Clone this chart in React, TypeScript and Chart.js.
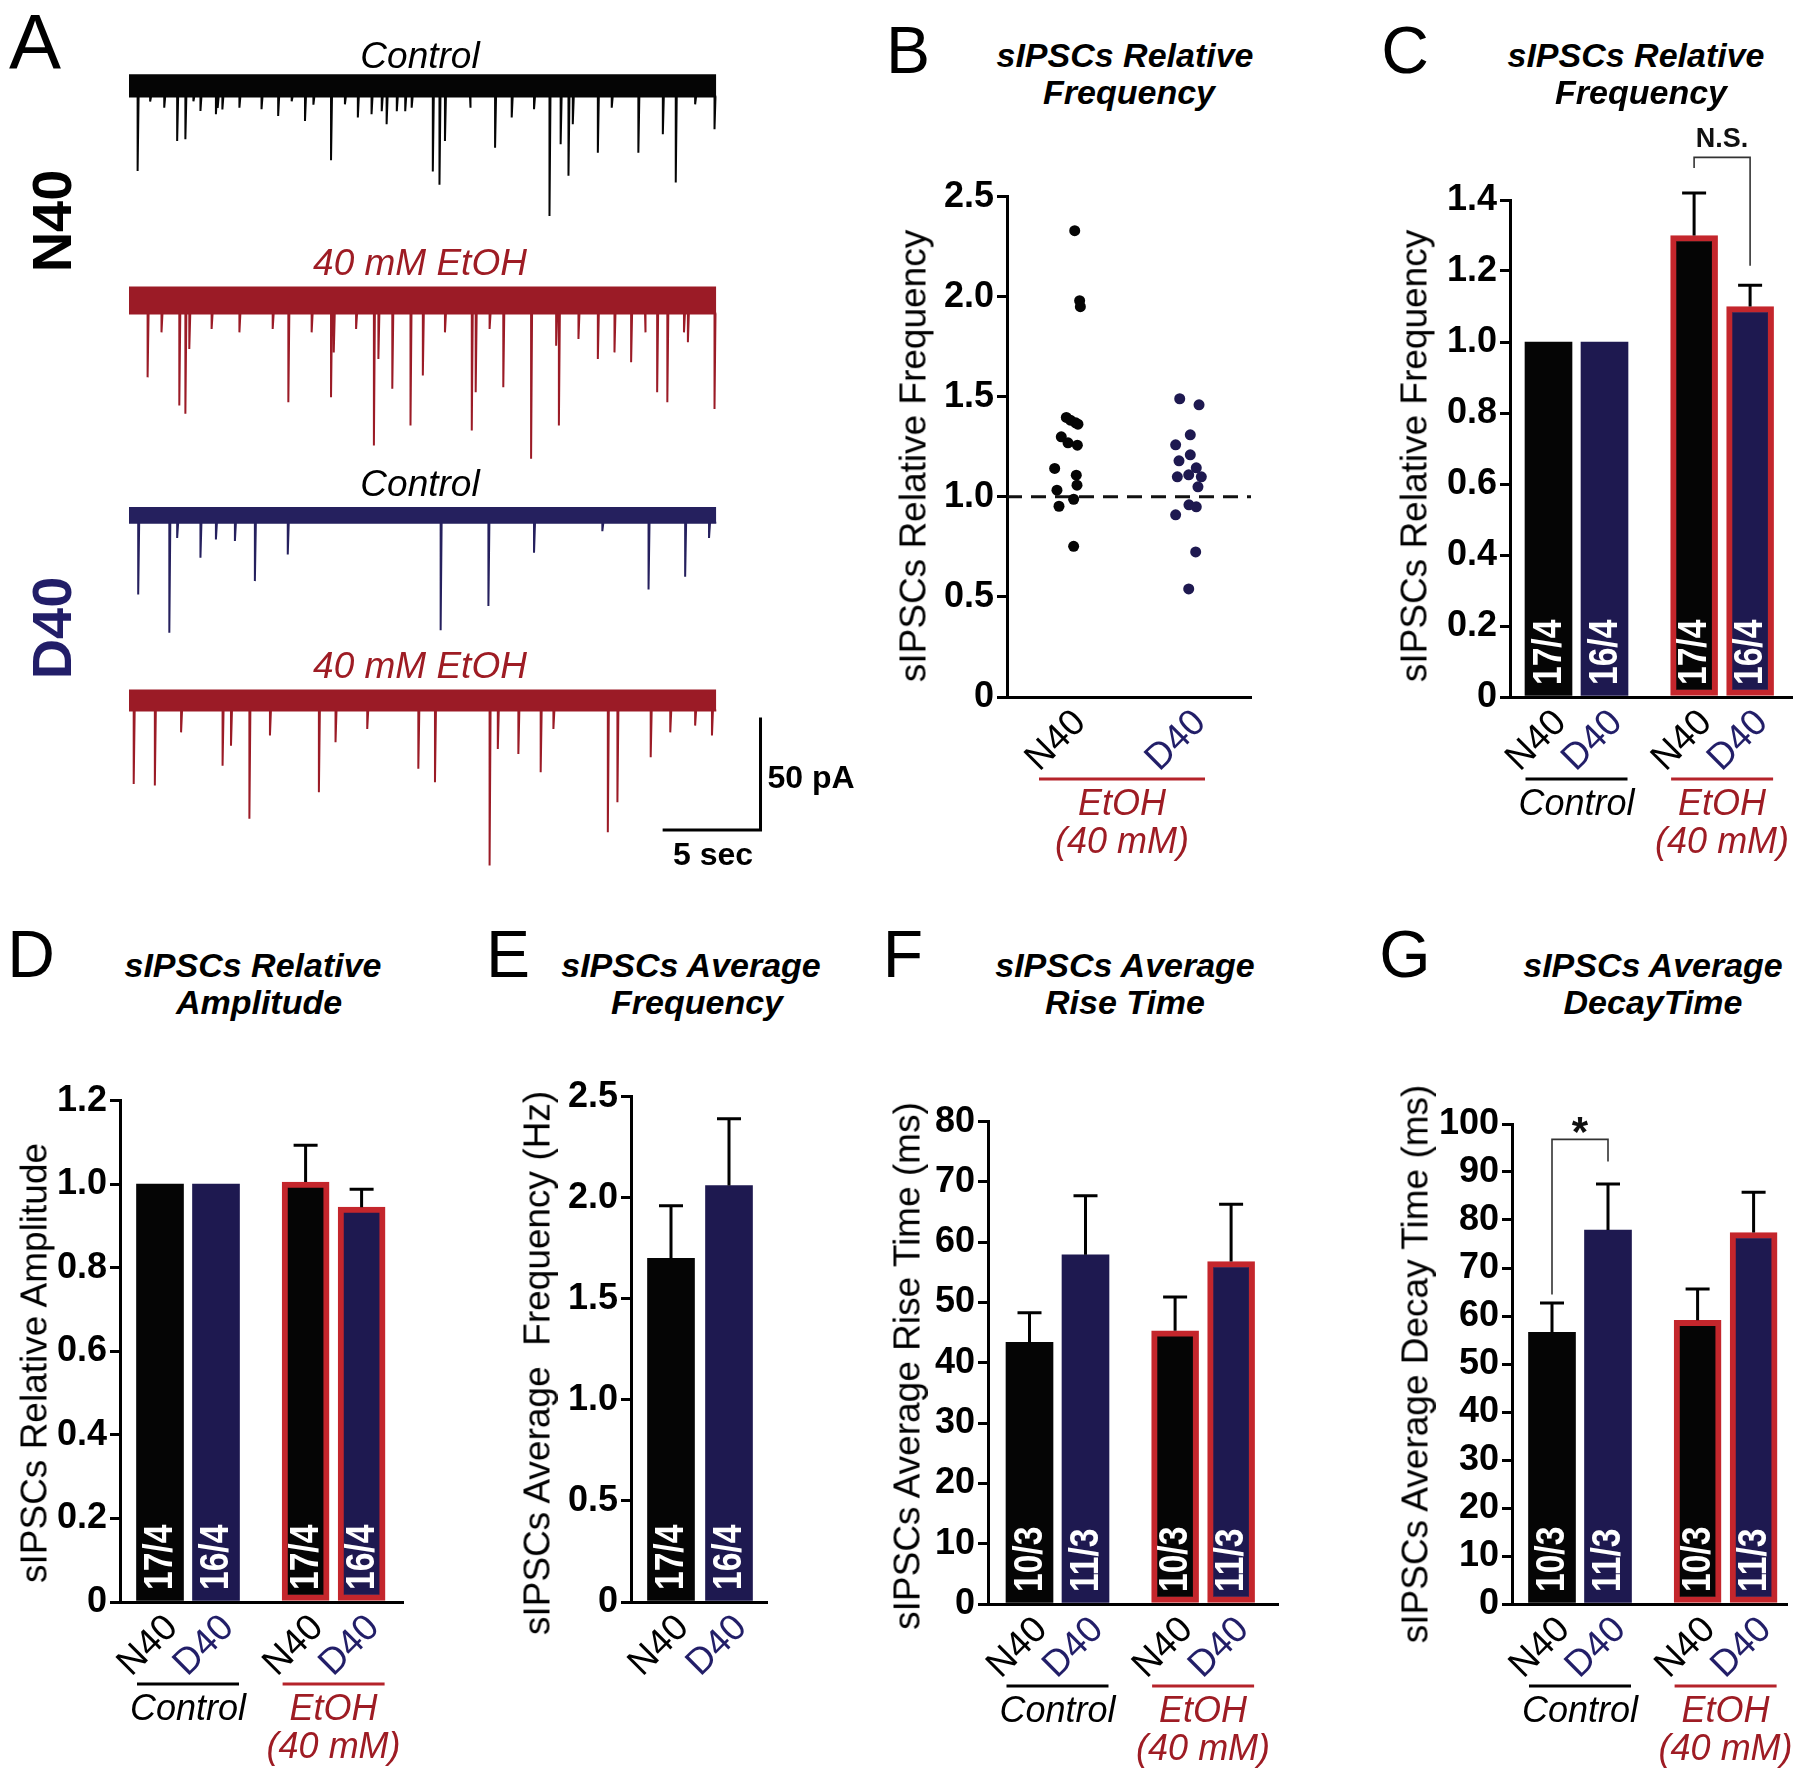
import React, { useEffect, useRef } from 'react';
import { Chart, registerables } from 'chart.js';

Chart.register(...registerables);

const FONT = '"Liberation Sans", Arial, Helvetica, sans-serif';
Chart.defaults.font.family = FONT;

// ===================== DATA =====================
// Panel A: representative 30 s recordings. Noise band [low, high] (pA); events [time (s), peak (pA)]
const traceSeconds = 30;
const scaleBarSeconds = 5;
const scaleBarPicoamps = 50;

const n40ControlNoise = [-4.2, 5.6];
const n40ControlEvents: number[][] = [
  [0.44, -37.3], [1.08, -6.5], [1.8, -9.2], [2.46, -24], [2.88, -23.2], [3.29, -6.4], [3.65, -10.7], [4.44, -12.1],
  [4.53, -9.3], [4.77, -10], [5.64, -9.2], [6.77, -9.9], [7.62, -12.9], [8.31, -6.4], [8.99, -15.1], [9.42, -7.9],
  [10.32, -32.6], [11.03, -7.7], [11.69, -13.6], [12.39, -12.1], [12.91, -10.8], [13.16, -16.6], [13.68, -10.8],
  [14.11, -10.8], [14.44, -9.2], [15.52, -37.6], [15.86, -43.5], [16.14, -24], [17.42, -9.2], [18.7, -27],
  [19.55, -13.6], [20.69, -9.9], [21.48, -57.3], [22.05, -25.5], [22.45, -39.5], [22.67, -16.6], [23.95, -29.2],
  [24.66, -9.2], [26.02, -29.2], [27.27, -21], [27.93, -42.5], [28.92, -7.7], [29.91, -18.8],
];
const n40EtohNoise = [-6, 6];
const n40EtohEvents: number[][] = [
  [0.95, -34.4], [1.66, -14.4], [2.57, -46.9], [2.88, -50.6], [3.08, -21.8], [4.22, -12.9], [5.64, -14.4],
  [7.34, -12.9], [8.14, -45.5], [9.33, -14.4], [10.32, -43.2], [10.46, -23.3], [11.6, -12.9], [12.51, -64.7],
  [12.74, -26.2], [13.45, -39.5], [14.38, -55.8], [15.01, -33.6], [16.14, -14.4], [17.51, -58], [17.71, -41],
  [18.42, -12.9], [19.12, -38.8], [20.54, -70.6], [21.82, -20.3], [21.96, -55.8], [22.96, -17.3], [23.95, -26.2],
  [24.8, -23.3], [25.65, -27.7], [26.36, -14.4], [26.98, -41], [27.5, -45.5], [28.35, -14.4], [28.55, -18.8],
  [29.91, -48.4],
];
const d40ControlNoise = [-3.5, 3.5];
const d40ControlEvents: number[][] = [
  [0.47, -35.3], [2.06, -52.3], [2.46, -10.2], [3.65, -19], [4.44, -10.9], [5.41, -11.6], [6.43, -29.4],
  [8.11, -17.6], [15.92, -51.2], [18.36, -40.5], [20.69, -16.8], [24.18, -7.2], [26.54, -33.1], [28.41, -27.5],
  [29.63, -10.2],
];
const d40EtohNoise = [-4.7, 4.7];
const d40EtohEvents: number[][] = [
  [0.24, -37.3], [1.32, -38], [2.66, -14.4], [4.78, -29.2], [5.21, -20.3], [6.15, -52.8], [7.2, -15.8],
  [9.7, -41], [10.55, -18.8], [12.17, -12.9], [14.78, -30.6], [15.63, -36.6], [18.42, -73.6], [18.84, -21.8],
  [19.89, -24], [21.03, -32.1], [21.68, -12.9], [24.46, -58.8], [24.95, -45.4], [26.65, -25.5], [27.65, -14.4],
  [28.92, -11.4], [29.78, -15.8],
];

// Panel B: relative frequency per cell, with horizontal jitter (category units)
const bCategories = ['N40', 'D40'];
const bN40Values = [2.33, 1.98, 1.95, 1.397, 1.383, 1.37, 1.363, 1.3, 1.27, 1.258, 1.142, 1.108, 1.058, 1.033, 0.988, 0.953, 0.753];
const bN40Jitter = [0.056, 0.097, 0.103, -0.014, 0.02, 0.064, 0.083, -0.056, 0.0, 0.078, -0.111, 0.069, 0.075, -0.092, 0.047, -0.075, 0.047];
const bD40Values = [1.49, 1.46, 1.31, 1.26, 1.21, 1.18, 1.145, 1.11, 1.1, 1.1, 1.05, 0.96, 0.95, 0.91, 0.725, 0.54];
const bD40Jitter = [-0.069, 0.092, 0.019, -0.103, 0.019, -0.075, 0.069, 0.006, 0.111, -0.089, 0.083, 0.008, 0.069, -0.103, 0.064, 0.006];
const bReference = 1.0;

// Bar panels
const barCategories = ['N40', 'D40', 'N40', 'D40'];
const barConditions = ['Control', 'Control', 'EtOH', 'EtOH'];
const cRelFreqMean = [1.0, 1.0, 1.3, 1.1];
const cRelFreqSem = [0, 0, 0.12, 0.06];
const dRelAmpMean = [1.0, 1.0, 1.005, 0.945];
const dRelAmpSem = [0, 0, 0.088, 0.043];
const eCategories = ['N40', 'D40'];
const eAvgFreqMean = [1.7, 2.06];
const eAvgFreqSem = [0.26, 0.33];
const fRiseMean = [43.4, 57.9, 45.3, 56.8];
const fRiseSem = [4.9, 9.8, 5.6, 9.5];
const gDecayMean = [56.6, 77.9, 59.1, 77.4];
const gDecaySem = [6.1, 9.6, 6.5, 8.4];
const cellsFreq = ['17/4', '16/4', '17/4', '16/4'];
const cellsKinetics = ['10/3', '11/3', '10/3', '11/3'];
const groupControl = ['Control'];
const groupEtoh = ['EtOH', '(40 mM)'];

// ===================== STYLE / LAYOUT =====================
const BLACK = '#050505';
const NAVY = '#1e1950';
const NAVY_TEXT = '#221e68';
const RED_BORDER = '#c4262c';
const RED_TEXT = '#9e1c24';
const RED_TRACE = '#9b1b26';
const NAVY_TRACE = '#25205e';

const TICK_FONT = { family: FONT, size: 36, weight: 'bold' as const };
const XLABEL_FONT = `37px ${FONT}`;
const GROUP_FONT = `italic 36px ${FONT}`;
const CELL_FONT = `bold 40px ${FONT}`;

interface Group { from: number; to: number; lines: string[]; color: string; lineColor: string; padL: number; padR: number }
interface Bracket { a: number; b: number; top: number; left: number; right: number; label: string; labelAt: number; font: string; dy: number }
interface Decor {
  positions: number[];
  means?: number[];
  sems?: number[];
  cells?: string[];
  xLabels: string[];
  xLabelColors: string[];
  groups: Group[];
  bracket?: Bracket;
}

function makeDecor(id: string, d: Decor) {
  return {
    id,
    afterDatasetsDraw(chart: any) {
      const { ctx, chartArea, scales } = chart;
      const xs = scales.x;
      const ys = scales.y;
      const base = chartArea.bottom;
      const px = (i: number) => xs.getPixelForValue(d.positions[i]);
      ctx.save();
      if (d.means && d.sems) {
        ctx.strokeStyle = '#000';
        ctx.lineWidth = 3;
        d.means.forEach((m, i) => {
          const s = d.sems![i];
          if (!s) return;
          const x = px(i);
          const y1 = ys.getPixelForValue(m);
          const y2 = ys.getPixelForValue(m + s);
          ctx.beginPath();
          ctx.moveTo(x, y1);
          ctx.lineTo(x, y2);
          ctx.moveTo(x - 12, y2);
          ctx.lineTo(x + 12, y2);
          ctx.stroke();
        });
      }
      if (d.cells) {
        d.cells.forEach((c, i) => {
          ctx.save();
          ctx.translate(px(i), base - 12);
          ctx.rotate(-Math.PI / 2);
          ctx.scale(0.84, 1);
          ctx.font = CELL_FONT;
          ctx.fillStyle = '#ffffff';
          ctx.textAlign = 'left';
          ctx.textBaseline = 'middle';
          ctx.fillText(c, 0, 1);
          ctx.restore();
        });
      }
      if (d.bracket) {
        const b = d.bracket;
        const xa = px(b.a);
        const xb = px(b.b);
        ctx.strokeStyle = '#333';
        ctx.lineWidth = 1.6;
        ctx.beginPath();
        ctx.moveTo(xa, ys.getPixelForValue(b.left));
        ctx.lineTo(xa, ys.getPixelForValue(b.top));
        ctx.lineTo(xb, ys.getPixelForValue(b.top));
        ctx.lineTo(xb, ys.getPixelForValue(b.right));
        ctx.stroke();
        ctx.font = b.font;
        ctx.fillStyle = '#111';
        ctx.textAlign = 'center';
        ctx.textBaseline = 'middle';
        ctx.fillText(b.label, (xa + xb) / 2, ys.getPixelForValue(b.labelAt) + b.dy);
      }
      d.xLabels.forEach((t, i) => {
        ctx.save();
        ctx.translate(px(i) - 1, base + 7);
        ctx.rotate(-Math.PI / 4);
        ctx.font = XLABEL_FONT;
        ctx.fillStyle = d.xLabelColors[i];
        ctx.textAlign = 'right';
        ctx.textBaseline = 'top';
        ctx.fillText(t, 0, 0);
        ctx.restore();
      });
      d.groups.forEach((g) => {
        const xl = px(g.from) - g.padL;
        const xr = px(g.to) + g.padR;
        ctx.strokeStyle = g.lineColor;
        ctx.lineWidth = 3;
        ctx.beginPath();
        ctx.moveTo(xl, base + 82);
        ctx.lineTo(xr, base + 82);
        ctx.stroke();
        ctx.font = GROUP_FONT;
        ctx.fillStyle = g.color;
        ctx.textAlign = 'center';
        ctx.textBaseline = 'middle';
        g.lines.forEach((ln, k) => ctx.fillText(ln, (xl + xr) / 2, base + 108 + 38 * k));
      });
      ctx.restore();
    },
  };
}

interface Spec { key: string; left: number; top: number; width: number; height: number; make: () => any }

interface AxisLayout {
  axisX: number; axisEnd: number; yTop: number; yBottom: number;
  unit: number; firstCenter: number; yMax: number; yStep: number; decimals: number; padTop: number;
}

const YW = 85, PR = 40, XH = 185;

function yAxis(L: AxisLayout) {
  return {
    min: 0,
    max: L.yMax,
    grid: { display: true, drawOnChartArea: false, drawTicks: true, tickLength: 10, lineWidth: 3, color: '#000' },
    border: { display: true, width: 3, color: '#000' },
    ticks: {
      stepSize: L.yStep,
      autoSkip: false,
      font: TICK_FONT,
      color: '#000',
      padding: 3,
      callback: (v: any) => (Number(v) === 0 ? '0' : Number(v).toFixed(L.decimals)),
    },
    afterFit: (s: any) => { s.width = YW; },
  };
}

function xAxis(min: number, max: number) {
  return {
    type: 'linear',
    min,
    max,
    offset: false,
    grid: { display: false, drawTicks: false },
    border: { display: true, width: 3, color: '#000' },
    ticks: { display: false },
    afterFit: (s: any) => { s.height = XH; },
  };
}

function frame(L: AxisLayout, positions: number[]) {
  const min = positions[0] - (L.firstCenter - L.axisX) / L.unit;
  const max = min + (L.axisEnd - L.axisX) / L.unit;
  return {
    min, max,
    left: L.axisX - YW,
    top: L.yTop - L.padTop,
    width: YW + (L.axisEnd - L.axisX) + PR,
    height: L.padTop + (L.yBottom - L.yTop) + XH,
  };
}

const SLOTS4 = [1, 2, 3.6, 4.6];
const SLOTS2 = [1, 2];

function catColor(c: string) { return c === 'N40' ? BLACK : NAVY; }
function catTextColor(c: string) { return c === 'N40' ? '#000' : NAVY_TEXT; }

function barSpec(key: string, L: AxisLayout, positions: number[], cats: string[], conds: string[],
  means: number[], sems: number[], cells: string[], grouped: boolean, bracket?: Bracket): Spec {
  const f = frame(L, positions);
  const groups: Group[] = grouped ? [
    { from: 0, to: 1, lines: groupControl, color: '#000', lineColor: '#000', padL: 23, padR: 23 },
    { from: 2, to: 3, lines: groupEtoh, color: RED_TEXT, lineColor: '#b5232a', padL: 23, padR: 23 },
  ] : [];
  return {
    key, left: f.left, top: f.top, width: f.width, height: f.height,
    make: () => ({
      type: 'bar',
      data: {
        datasets: [{
          data: means.map((m, i) => ({ x: positions[i], y: m })),
          backgroundColor: cats.map(catColor),
          borderColor: cats.map((c, i) => (conds[i] === 'EtOH' ? RED_BORDER : catColor(c))),
          borderWidth: conds.map((c) => (c === 'EtOH' ? 6 : 0)),
          borderSkipped: false,
          barThickness: 47,
        }],
      },
      options: {
        responsive: false,
        animation: false,
        layout: { padding: { top: L.padTop, right: PR, left: 0, bottom: 0 } },
        plugins: { legend: { display: false }, tooltip: { enabled: false } },
        scales: { x: xAxis(f.min, f.max), y: yAxis(L) },
      },
      plugins: [makeDecor('decor' + key, {
        positions, means, sems, cells,
        xLabels: cats, xLabelColors: cats.map(catTextColor), groups, bracket,
      })],
    }),
  };
}

// Panel B scatter
const bLayout: AxisLayout = { axisX: 1007, axisEnd: 1251, yTop: 196, yBottom: 697, unit: 120, firstCenter: 1068, yMax: 2.5, yStep: 0.5, decimals: 1, padTop: 24 };
function scatterSpec(): Spec {
  const f = frame(bLayout, SLOTS2);
  return {
    key: 'B', left: f.left, top: f.top, width: f.width, height: f.height,
    make: () => ({
      type: 'scatter',
      data: {
        datasets: [
          { data: bN40Values.map((v, i) => ({ x: SLOTS2[0] + bN40Jitter[i], y: v })), backgroundColor: BLACK, pointRadius: 5.5, pointBorderWidth: 0, borderWidth: 0 },
          { data: bD40Values.map((v, i) => ({ x: SLOTS2[1] + bD40Jitter[i], y: v })), backgroundColor: NAVY, pointRadius: 5.5, pointBorderWidth: 0, borderWidth: 0 },
          { data: [{ x: f.min, y: bReference }, { x: f.max, y: bReference }], showLine: true, borderColor: '#111', borderWidth: 3, borderDash: [15, 9], pointRadius: 0 },
        ],
      },
      options: {
        responsive: false,
        animation: false,
        layout: { padding: { top: bLayout.padTop, right: PR, left: 0, bottom: 0 } },
        plugins: { legend: { display: false }, tooltip: { enabled: false } },
        scales: { x: xAxis(f.min, f.max), y: yAxis(bLayout) },
      },
      plugins: [makeDecor('decorB', {
        positions: SLOTS2,
        xLabels: bCategories, xLabelColors: bCategories.map(catTextColor),
        groups: [{ from: 0, to: 1, lines: groupEtoh, color: RED_TEXT, lineColor: '#b5232a', padL: 29, padR: 17 }],
      })],
    }),
  };
}

// Panel A traces
const TRACE_X0 = 129;
const PX_PER_S = 19.57;
const PX_PER_PA = 2.25;
const TRACE_T_MAX = 33;
const TRACE_Y_MIN = -80;
const TRACE_Y_MAX = 10.2;
const SCALEBAR_END_S = 32.26;
const SCALEBAR_BASE_PA = -57.8;

function traceSpec(key: string, noise: number[], events: number[][], color: string, centerY: number, withBar: boolean): Spec {
  const width = Math.round(TRACE_T_MAX * PX_PER_S);
  const height = Math.round((TRACE_Y_MAX - TRACE_Y_MIN) * PX_PER_PA);
  const top = Math.round(centerY - TRACE_Y_MAX * PX_PER_PA);
  return {
    key, left: TRACE_X0, top, width, height,
    make: () => {
      const [lo, hi] = noise;
      const pts: { x: number; y: number }[] = [{ x: 0, y: lo }];
      events.slice().sort((a, b) => a[0] - b[0]).forEach(([t, p]) => {
        pts.push({ x: t, y: lo }, { x: t, y: p }, { x: t + 0.05, y: lo });
      });
      pts.push({ x: traceSeconds, y: lo });
      const datasets: any[] = [
        { data: [{ x: 0, y: hi }, { x: traceSeconds, y: hi }], borderWidth: 0, pointRadius: 0, fill: '+1', backgroundColor: color, borderColor: color },
        { data: [{ x: 0, y: lo }, { x: traceSeconds, y: lo }], borderWidth: 0, pointRadius: 0, fill: false, borderColor: color },
        { data: pts, borderColor: color, borderWidth: 2, pointRadius: 0, fill: false },
      ];
      if (withBar) {
        datasets.push({
          data: [
            { x: SCALEBAR_END_S - scaleBarSeconds, y: SCALEBAR_BASE_PA },
            { x: SCALEBAR_END_S, y: SCALEBAR_BASE_PA },
            { x: SCALEBAR_END_S, y: SCALEBAR_BASE_PA + scaleBarPicoamps },
          ],
          borderColor: '#000', borderWidth: 3, pointRadius: 0, fill: false, borderJoinStyle: 'miter',
        });
      }
      return {
        type: 'line',
        data: { datasets },
        options: {
          responsive: false,
          animation: false,
          layout: { padding: 0 },
          plugins: { legend: { display: false }, tooltip: { enabled: false } },
          scales: {
            x: { type: 'linear', display: false, min: 0, max: TRACE_T_MAX },
            y: { display: false, min: TRACE_Y_MIN, max: TRACE_Y_MAX },
          },
          elements: { line: { tension: 0 } },
        },
      };
    },
  };
}

const cLayout: AxisLayout = { axisX: 1510, axisEnd: 1792, yTop: 200, yBottom: 697, unit: 56, firstCenter: 1548.5, yMax: 1.4, yStep: 0.2, decimals: 1, padTop: 95 };
const dLayout: AxisLayout = { axisX: 120, axisEnd: 403, yTop: 1100, yBottom: 1602, unit: 56, firstCenter: 160, yMax: 1.2, yStep: 0.2, decimals: 1, padTop: 24 };
const eLayout: AxisLayout = { axisX: 631, axisEnd: 767, yTop: 1096, yBottom: 1602, unit: 58, firstCenter: 671, yMax: 2.5, yStep: 0.5, decimals: 1, padTop: 24 };
const fLayout: AxisLayout = { axisX: 988, axisEnd: 1278, yTop: 1121, yBottom: 1604, unit: 56, firstCenter: 1029.5, yMax: 80, yStep: 10, decimals: 0, padTop: 24 };
const gLayout: AxisLayout = { axisX: 1512, axisEnd: 1787, yTop: 1124, yBottom: 1604, unit: 56, firstCenter: 1552, yMax: 100, yStep: 10, decimals: 0, padTop: 30 };

const specs: Spec[] = [
  traceSpec('A1', n40ControlNoise, n40ControlEvents, BLACK, 87, false),
  traceSpec('A2', n40EtohNoise, n40EtohEvents, RED_TRACE, 300, false),
  traceSpec('A3', d40ControlNoise, d40ControlEvents, NAVY_TRACE, 515, false),
  traceSpec('A4', d40EtohNoise, d40EtohEvents, RED_TRACE, 700, true),
  scatterSpec(),
  barSpec('C', cLayout, SLOTS4, barCategories, barConditions, cRelFreqMean, cRelFreqSem, cellsFreq, true,
    { a: 2, b: 3, top: 1.52, left: 1.49, right: 1.215, label: 'N.S.', labelAt: 1.57, font: `bold 27px ${FONT}`, dy: 0 }),
  barSpec('D', dLayout, SLOTS4, barCategories, barConditions, dRelAmpMean, dRelAmpSem, cellsFreq, true),
  barSpec('E', eLayout, SLOTS2, eCategories, ['Control', 'Control'], eAvgFreqMean, eAvgFreqSem, cellsFreq.slice(0, 2), false),
  barSpec('F', fLayout, SLOTS4, barCategories, barConditions, fRiseMean, fRiseSem, cellsKinetics, true),
  barSpec('G', gLayout, SLOTS4, barCategories, barConditions, gDecayMean, gDecaySem, cellsKinetics, true,
    { a: 0, b: 1, top: 96.8, left: 64.5, right: 92.2, label: '*', labelAt: 99.7, font: `bold 42px ${FONT}`, dy: 9 }),
];

function ChartCanvas({ spec }: { spec: Spec }) {
  const ref = useRef<HTMLCanvasElement>(null);
  useEffect(() => {
    const chart = new Chart(ref.current as HTMLCanvasElement, spec.make());
    return () => chart.destroy();
  }, [spec]);
  return (
    <canvas
      ref={ref}
      width={spec.width}
      height={spec.height}
      style={{ position: 'absolute', left: spec.left, top: spec.top, width: spec.width, height: spec.height }}
    />
  );
}

interface TextItem { t: string; x: number; y: number; size: number; bold?: boolean; italic?: boolean; color?: string; rot?: number }

const texts: TextItem[] = [
  // panel letters
  { t: 'A', x: 35, y: 42, size: 78 },
  { t: 'B', x: 908, y: 50, size: 66 },
  { t: 'C', x: 1405, y: 50, size: 66 },
  { t: 'D', x: 31, y: 954, size: 66 },
  { t: 'E', x: 508, y: 954, size: 66 },
  { t: 'F', x: 903, y: 954, size: 66 },
  { t: 'G', x: 1405, y: 954, size: 66 },
  // titles
  { t: 'sIPSCs Relative', x: 1125, y: 55, size: 34, bold: true, italic: true },
  { t: 'Frequency', x: 1129, y: 92, size: 34, bold: true, italic: true },
  { t: 'sIPSCs Relative', x: 1636, y: 55, size: 34, bold: true, italic: true },
  { t: 'Frequency', x: 1641, y: 92, size: 34, bold: true, italic: true },
  { t: 'sIPSCs Relative', x: 253, y: 965, size: 34, bold: true, italic: true },
  { t: 'Amplitude', x: 259, y: 1002, size: 34, bold: true, italic: true },
  { t: 'sIPSCs Average', x: 691, y: 965, size: 34, bold: true, italic: true },
  { t: 'Frequency', x: 697, y: 1002, size: 34, bold: true, italic: true },
  { t: 'sIPSCs Average', x: 1125, y: 965, size: 34, bold: true, italic: true },
  { t: 'Rise Time', x: 1125, y: 1002, size: 34, bold: true, italic: true },
  { t: 'sIPSCs Average', x: 1653, y: 965, size: 34, bold: true, italic: true },
  { t: 'DecayTime', x: 1653, y: 1002, size: 34, bold: true, italic: true },
  // y axis titles
  { t: 'sIPSCs Relative Frequency', x: 913, y: 456, size: 37, rot: -90 },
  { t: 'sIPSCs Relative Frequency', x: 1414, y: 456, size: 37, rot: -90 },
  { t: 'sIPSCs Relative Amplitude', x: 34, y: 1363, size: 37, rot: -90 },
  { t: 'sIPSCs Average  Frequency (Hz)', x: 537, y: 1363, size: 37, rot: -90 },
  { t: 'sIPSCs Average Rise Time (ms)', x: 907, y: 1366, size: 37, rot: -90 },
  { t: 'sIPSCs Average Decay Time (ms)', x: 1415, y: 1364, size: 37, rot: -90 },
  // panel A labels
  { t: 'Control', x: 420, y: 55, size: 37, italic: true },
  { t: '40 mM EtOH', x: 420, y: 262, size: 37, italic: true, color: RED_TEXT },
  { t: 'Control', x: 420, y: 483, size: 37, italic: true },
  { t: '40 mM EtOH', x: 420, y: 665, size: 37, italic: true, color: RED_TEXT },
  { t: 'N40', x: 52, y: 221, size: 56, bold: true, rot: -90 },
  { t: 'D40', x: 52, y: 628, size: 56, bold: true, rot: -90, color: NAVY_TEXT },
  { t: '50 pA', x: 811, y: 777, size: 32, bold: true },
  { t: '5 sec', x: 713, y: 854, size: 32, bold: true },
];

export default function App() {
  return (
    <div style={{ position: 'absolute', left: 0, top: 0, width: 1800, height: 1779, overflow: 'hidden', background: '#fff' }}>
      {specs.map((s) => <ChartCanvas key={s.key} spec={s} />)}
      {texts.map((it, i) => (
        <div
          key={i}
          style={{
            position: 'absolute',
            left: it.x,
            top: it.y,
            transform: `translate(-50%, -50%) rotate(${it.rot || 0}deg)`,
            fontFamily: FONT,
            fontSize: it.size,
            fontWeight: it.bold ? 'bold' : 'normal',
            fontStyle: it.italic ? 'italic' : 'normal',
            color: it.color || '#000',
            lineHeight: 1,
            whiteSpace: 'pre',
          }}
        >
          {it.t}
        </div>
      ))}
    </div>
  );
}
